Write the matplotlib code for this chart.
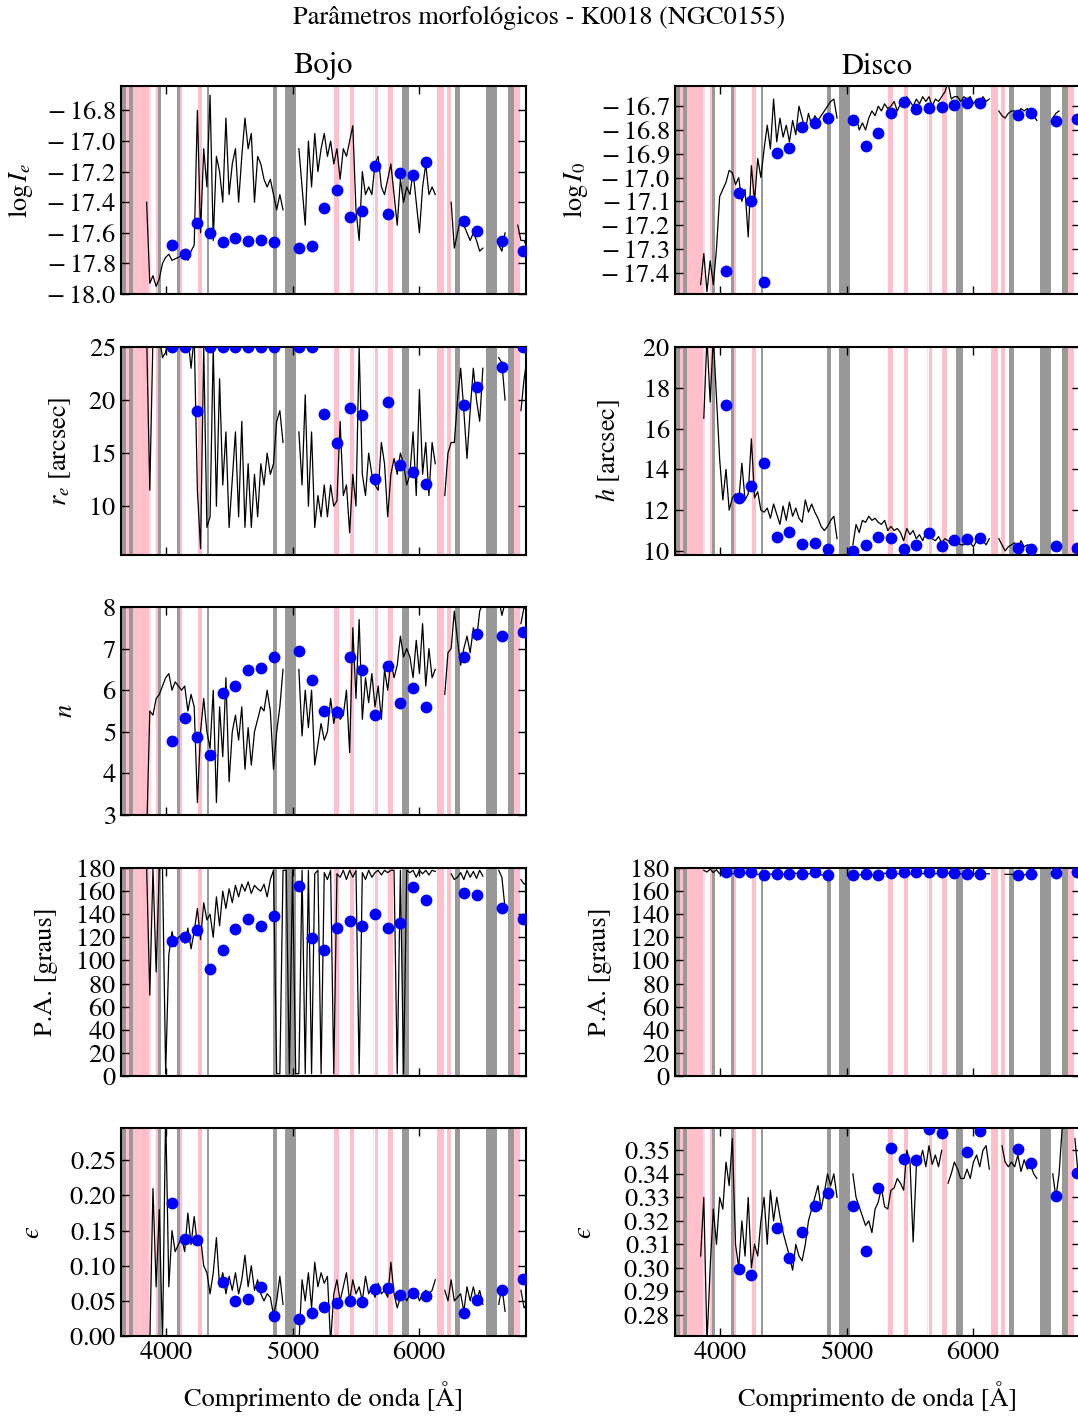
#!/usr/bin/env python3

import numpy as np
import matplotlib
matplotlib.use('Agg')
import matplotlib.pyplot as plt
from matplotlib.ticker import FuncFormatter

plt.rcParams['font.family'] = ['STIXGeneral', 'DejaVu Serif']
plt.rcParams['mathtext.fontset'] = 'stix'
plt.rcParams['axes.formatter.use_mathtext'] = True
plt.rcParams['xtick.direction'] = 'in'
plt.rcParams['ytick.direction'] = 'in'
plt.rcParams['xtick.top'] = True
plt.rcParams['ytick.right'] = True
plt.rcParams['xtick.major.size'] = 6
plt.rcParams['ytick.major.size'] = 6
plt.rcParams['xtick.major.width'] = 1.0
plt.rcParams['ytick.major.width'] = 1.0
plt.rcParams['axes.linewidth'] = 1.5

# wavelength grid of the per-wavelength fits (Angstrom)
wl = np.arange(3650, 6851, 25)

# centres of the 100 A bins (blue points)
bin_wl = [4050, 4150, 4250, 4350, 4450, 4550, 4650, 4750, 4850, 5050, 5150, 5250,
          5350, 5450, 5550, 5650, 5750, 5850, 5950, 6050, 6350, 6450, 6650, 6815]

# masked regions
gray_bands = [(3650, 3688), (3708, 3740), (3940, 3960), (4089, 4116), (4326, 4342),
              (4847, 4876), (4940, 5027), (5864, 5917), (6279, 6321), (6525, 6609),
              (6696, 6749)]
pink_bands = [(3688, 3708), (3740, 3867), (3922, 3940), (4116, 4126), (4255, 4290),
              (5330, 5370), (5449, 5483), (5653, 5674), (5753, 5792), (6136, 6194),
              (6220, 6252), (6749, 6794)]
light_pink_bands = [(3867, 3886), (5634, 5642)]

N = None

# ---- bulge (Bojo) ----
bulge_logI = [N, N, N, N, N, N, N, N, -17.40, -17.93,
              -17.88, -17.95, -17.90, -17.80, -17.76, -17.74, -17.78, -17.77, -17.76, -17.75,
              -17.73, -17.78, -17.72, -17.68, -16.80, -17.60, -17.05, -17.30, -16.70, -17.65,
              -17.10, -17.20, -17.40, -16.85, -17.35, -17.15, -17.05, -17.40, -17.10, -16.85,
              -17.05, -16.95, -17.40, -17.10, -17.15, -17.25, -17.30, -17.25, -17.35, -17.45,
              -17.35, -17.45, N, N, N, N, -17.05, -17.30, -17.55, -17.00,
              -17.30, -16.95, -17.20, -17.05, -16.95, -17.10, -17.00, -17.15, -17.05, -17.25,
              -17.05, -17.10, -17.00, -16.90, -17.45, -17.65, -17.20, -17.35, -17.30, -17.35,
              -17.15, -17.10, -17.30, -17.35, -17.25, -17.15, -17.35, -17.55, -17.25, -17.40,
              -17.30, -17.35, -17.20, -17.40, -17.60, -17.30, -17.15, -17.35, -17.30, -17.35,
              N, N, N, N, -17.40, -17.70, -17.60, -17.50, -17.55, -17.60,
              -17.65, -17.60, -17.65, -17.72, -17.70, N, N, N, N, -17.68,
              -17.72, -17.60, N, N, N, -17.55, -17.65, -17.65, -17.70]
bulge_logI_bin = [-17.677, -17.740, -17.537, -17.603, -17.659, -17.633, -17.653, -17.648,
                  -17.659, -17.699, -17.686, -17.435, -17.319, -17.498, -17.459, -17.162,
                  -17.476, -17.212, -17.223, -17.140, -17.520, -17.590, -17.653, -17.718]

bulge_re = [N, N, N, N, N, N, N, N, 26, 11.5,
            26, 26, 26, 24, 24.5, 26, 26, 26, 26, 26,
            26, 26, 23, 26, 11.5, 6, 25, 8, 9, 25,
            10, 22, 12, 17, 8, 12.5, 17, 9, 18, 8,
            14, 8, 13, 9, 14, 12, 15, 13, 14, 18,
            19, 16, N, N, N, N, 17, 12, 20.5, 10,
            17, 8, 11, 9, 12, 9, 12, 10, 10.5, 18,
            11, 12, 7.5, 13, 10, 25, 13, 11, 15, 13,
            12, 11.5, 16, 14, 9, 13, 14.5, 13, 15, 14,
            12, 13, 17, 11, 21, 13, 16, 11, 16, 14,
            N, N, 11, 15, 16, 16, 20, 23, 19, 14.5,
            19, 23, 20, 18, 23, N, N, N, N, 24,
            23.5, 20, N, N, N, N, 19, 22, 24]
bulge_re_bin = [25, 25, 18.93, 25, 25, 25, 25, 25, 25, 25, 25, 18.71,
                16.0, 19.25, 18.62, 12.58, 19.78, 13.9, 13.2, 12.08, 19.53, 21.26, 23.14, 25]

bulge_n = [N, N, N, N, N, N, N, N, 2.5, 5.5,
           5.4, 5.8, 5.9, 6.1, 6.3, 6.4, 6.0, 6.2, 6.1, 6.0,
           6.1, 5.5, 5.9, 5.6, 3.3, 5.0, 5.8, 5.0, 4.6, 6.0,
           3.3, 5.6, 4.4, 6.3, 3.8, 5.0, 5.4, 4.8, 5.6, 4.1,
           5.1, 4.2, 5.0, 5.3, 5.6, 5.5, 6.0, 5.5, 4.1, 5.0,
           5.6, 6.5, N, N, N, N, 6.5, 4.9, 6.0, 5.1,
           6.0, 4.2, 4.7, 5.2, 4.8, 5.0, 5.8, 5.2, 5.6, 5.3,
           5.4, 6.0, 4.5, 7.5, 5.8, 7.7, 5.3, 6.3, 5.7, 6.4,
           5.6, 6.1, 5.3, 6.5, 6.0, 6.7, 6.3, 6.6, 7.3, 6.8,
           7.0, 6.8, 6.3, 7.2, 6.4, 7.6, 6.1, 7.0, 6.3, 6.5,
           N, N, 5.9, 6.9, 7.0, 7.9, 7.2, 6.6, 7.0, 7.3,
           6.9, 7.5, 7.2, 7.9, 8.1, N, N, N, N, 8.2,
           7.8, 8.1, N, N, N, N, 7.6, 8.0, 7.9]
bulge_n_bin = [4.78, 5.33, 4.87, 4.44, 5.93, 6.10, 6.49, 6.54, 6.79, 6.94, 6.25, 5.49,
               5.47, 6.80, 6.48, 5.40, 6.59, 5.70, 6.05, 5.60, 6.81, 7.36, 7.31, 7.39]

bulge_pa = [N, N, N, N, N, N, N, N, 180, 70,
            180, 90, 180, 180, 2, 105, 125, 112, 120, 122,
            115, 128, 110, 125, 145, 118, 150, 135, 140, 120,
            155, 130, 160, 145, 162, 150, 165, 155, 166, 160,
            168, 158, 165, 162, 160, 166, 155, 170, 178, 2,
            2, 178, 178, 2, 178, 2, 2, 178, 2, 178,
            2, 175, 178, 2, 176, 170, 178, 2, 175, 172,
            178, 170, 178, 172, 178, 2, 176, 170, 178, 172,
            176, 178, 174, 178, 176, 178, 178, 2, 178, 2,
            178, 176, 178, 172, 178, 175, 178, 174, 178, 177,
            N, N, N, N, 175, 170, 172, 176, 170, 178,
            172, 177, 171, 178, 173, N, N, N, N, 178,
            172, 145, N, N, N, N, 170, 166, 168]
bulge_pa_bin = [116.9, 120.1, 126.5, 92.3, 109.4, 126.8, 135.7, 130.2, 138.6, 164.7,
                119.8, 108.8, 127.9, 134.3, 130.2, 140.1, 128.2, 132.5, 163.5, 152.2,
                158.0, 156.3, 145.6, 135.7]

bulge_eps = [N, N, N, N, N, N, N, N, N, -0.01,
             0.21, 0.07, 0.18, -0.01, 0.32, 0.07, 0.15, 0.12, 0.13, 0.14,
             0.12, 0.175, 0.13, 0.17, 0.13, 0.14, 0.10, 0.09, 0.06, 0.09,
             0.14, 0.07, 0.09, 0.06, 0.085, 0.065, 0.09, 0.06, 0.08, 0.115,
             0.07, 0.10, 0.065, 0.08, 0.06, 0.05, 0.06, 0.055, 0.03, 0.05,
             0.085, 0.045, N, N, N, N, -0.01, 0.08, 0.05, 0.09,
             0.04, 0.105, 0.07, 0.09, 0.075, 0.085, -0.01, 0.06, 0.08, 0.05,
             0.07, 0.09, 0.05, 0.08, 0.06, 0.07, 0.05, 0.085, 0.06, 0.07,
             0.055, 0.075, 0.06, 0.065, 0.055, 0.105, 0.06, 0.04, 0.055, 0.06,
             0.05, 0.06, 0.055, 0.065, 0.05, 0.06, 0.065, 0.06, 0.065, 0.08,
             N, N, 0.065, 0.05, 0.08, 0.05, 0.055, 0.06, 0.035, 0.07,
             0.05, 0.07, 0.05, 0.065, 0.045, N, N, N, N, 0.045,
             0.07, 0.035, N, N, N, N, 0.065, 0.04, 0.045]
bulge_eps_bin = [0.1886, 0.1376, 0.1367, N, 0.0762, 0.050, 0.0524, 0.070, 0.0281, 0.0248,
                 0.0324, 0.041, 0.0467, 0.0495, 0.0486, 0.0662, 0.0686, 0.0586, 0.061,
                 0.0576, 0.0333, 0.0514, 0.0657, 0.0814]

# ---- disc (Disco) ----
disc_logI = [N, N, N, N, N, N, N, N, -17.45, -17.32,
             -17.48, -17.35, -17.45, -17.30, -17.08, -17.05, -17.02, -16.97, -16.98, -17.03,
             -17.00, -17.10, -17.05, -17.25, -16.95, -17.10, -16.92, -17.00, -16.88, -16.78,
             -16.88, -16.67, -16.85, -16.75, -16.83, -16.78, -16.85, -16.76, -16.82, -16.70,
             -16.75, -16.80, -16.73, -16.78, -16.74, -16.76, -16.74, -16.72, -16.70, -16.68,
             -16.67, -16.75, N, N, N, N, -16.75, -16.74, -16.80, -16.77,
             -16.80, -16.75, -16.72, -16.74, -16.70, -16.72, -16.69, -16.71, -16.70, -16.68,
             -16.72, -16.69, -16.70, -16.66, -16.68, -16.70, -16.67, -16.69, -16.66, -16.68,
             -16.66, -16.70, -16.67, -16.68, -16.66, -16.64, -16.60, -16.67, -16.66, -16.66,
             -16.68, -16.66, -16.67, -16.66, -16.69, -16.67, -16.69, -16.66, -16.68, -16.67,
             N, N, -16.72, -16.74, -16.75, -16.73, -16.72, -16.72, -16.73, -16.71,
             -16.72, -16.71, -16.73, -16.74, -16.76, N, N, N, N, -16.75,
             -16.73, -16.72, N, N, N, N, -16.74, -16.75, -16.75]
disc_logI_bin = [-17.392, -17.066, -17.097, -17.439, -16.897, -16.877, -16.786, -16.772,
                 -16.749, -16.756, -16.869, -16.811, -16.728, -16.683, -16.711, -16.708,
                 -16.704, -16.697, -16.686, -16.686, -16.737, -16.728, -16.763, -16.754]

disc_h = [N, N, N, N, N, N, N, N, N, 16.5,
          20.5, 17.3, 20.5, 17.5, 14.5, 12.5, 14.0, 12.0, 12.6, 12.8,
          12.4, 14.3, 12.5, 12.8, 15.5, 12.6, 12.9, 12.0, 11.9, 12.1,
          11.6, 12.3, 11.8, 11.3, 12.2, 11.5, 12.4, 11.7, 12.1, 11.6,
          11.4, 12.5, 11.9, 12.3, 11.9, 11.6, 11.2, 11.0, 11.2, 11.5,
          11.7, 10.6, N, N, N, N, 10.3, 11.3, 10.9, 11.5,
          11.4, 11.7, 11.5, 11.6, 11.4, 11.3, 11.5, 11.0, 11.2, 11.0,
          11.1, 10.9, 10.5, 11.1, 10.8, 11.0, 10.6, 10.8, 10.5, 10.9,
          10.7, 10.6, 10.5, 10.7, 10.4, 10.6, 10.5, 10.3, 10.5, 10.4,
          10.3, 10.3, 10.5, 10.4, 10.2, 10.5, 10.4, 10.5, 10.3, 10.6,
          N, N, 10.6, 10.3, 10.0, 10.2, 10.3, 10.4, 10.1, 10.5,
          10.2, 10.3, 10.2, 10.2, 10.1, N, N, N, N, 10.2,
          10.3, 10.0, N, N, N, N, 10.1, 10.2, 10.1]
disc_h_bin = [17.17, 12.58, 13.17, 14.33, 10.70, 10.92, 10.36, 10.38, 10.07, 10.02,
              10.28, 10.67, 10.62, 10.07, 10.29, 10.88, 10.26, 10.54, 10.60, 10.62,
              10.15, 10.11, 10.23, 10.15]

disc_pa = [N, N, N, N, N, N, N, N, N, 178,
           176.5, 179, 176, 178.5, 175, 175.5, 176, 175, 175, 175.5,
           176, 175, 175.5, 174.5, 175, 175.5, 174.5, 174.5, 174, 175,
           174.5, 175, 174.5, 175, 174.5, 175, 174.5, 175, 175.5, 175,
           175, 175.5, 175, 175, 175.5, 175, 174, 174, 174, 174,
           N, N, N, N, N, N, 175, 174.5, 174, 174.5,
           174, 174.5, 174, 174.5, 175, 175, 175.5, 175, 175, 175.5,
           175, 175, 175.5, 176, 175, 174, 175, 175, 175, 175.5,
           176, 175, 175, 175.5, 175, 175, 175.5, 175, 175, 175,
           175, 175, 175, 175.5, 175, 175, 175.5, 175, 175, 175,
           N, N, 174.5, N, 174.5, 174.5, 174.5, 174.5, 174, 174.5,
           174, 174.5, 174.5, 174, 174, N, N, N, N, 174,
           174, 173.5, N, N, N, N, 174, 174, 174]
disc_pa_bin = [176.2, 176.8, 176.5, 173.6, 174.8, 174.8, 175.1, 176.2, 174.2, 174.2,
               174.5, 173.9, 175.7, 176.2, 176.2, 176.8, 176.5, 175.9, 174.5, 175.1,
               174.2, 174.8, 175.7, 176.5]

disc_eps = [N, N, N, N, N, N, N, N, 0.305, 0.33,
            0.268, 0.30, 0.325, 0.31, 0.33, 0.325, 0.345, 0.335, 0.355, 0.31,
            0.30, 0.32, 0.305, 0.33, 0.30, 0.31, 0.305, 0.32, 0.33, 0.31,
            0.333, 0.32, 0.33, 0.322, 0.315, 0.31, 0.305, 0.299, 0.31, 0.305,
            0.303, 0.31, 0.32, 0.325, 0.33, 0.335, 0.325, 0.332, 0.34, 0.335,
            0.34, 0.33, N, N, N, N, 0.34, 0.33, 0.326, 0.322,
            0.318, 0.32, 0.315, 0.325, 0.328, 0.334, 0.326, 0.325, 0.333, 0.334,
            0.338, 0.336, 0.333, 0.35, 0.345, 0.311, 0.343, 0.345, 0.35, 0.343,
            0.352, 0.344, 0.348, 0.343, 0.35, N, 0.336, 0.34, 0.345, 0.342,
            0.338, 0.338, 0.342, 0.338, 0.345, 0.348, 0.343, 0.35, 0.352, 0.342,
            N, N, N, 0.352, 0.345, 0.343, 0.345, 0.343, 0.348, 0.341,
            0.346, 0.342, 0.344, 0.34, 0.338, N, N, N, N, 0.34,
            0.33, 0.34, 0.36, N, N, N, 0.355, 0.34, 0.356]
disc_eps_bin = [N, 0.2994, 0.2969, N, 0.3170, 0.3043, 0.3153, 0.3261, 0.3317, 0.3264,
                0.3072, 0.3341, 0.3511, 0.3463, 0.3460, 0.3589, 0.3574, N, 0.3493,
                0.3581, 0.3504, 0.3446, 0.3307, 0.3405]

# panels: (row, col, line, points, ylabel, label x, yticks, ylim)
panels = [
    (0, 0, bulge_logI, bulge_logI_bin, r'$\log I_e$', -0.212,
     [-18.0, -17.8, -17.6, -17.4, -17.2, -17.0, -16.8], (-18.0, -16.64)),
    (1, 0, bulge_re, bulge_re_bin, r'$r_e$ [arcsec]', -0.118, [10, 15, 20, 25], (5.4, 25)),
    (2, 0, bulge_n, bulge_n_bin, r'$n$', -0.106, [3, 4, 5, 6, 7, 8], (3, 8)),
    (3, 0, bulge_pa, bulge_pa_bin, 'P.A. [graus]', -0.156, list(range(0, 181, 20)), (0, 180)),
    (4, 0, bulge_eps, bulge_eps_bin, u'$\u03f5$', -0.188,
     [0.0, 0.05, 0.10, 0.15, 0.20, 0.25], (0, 0.296)),
    (0, 1, disc_logI, disc_logI_bin, r'$\log I_0$', -0.210,
     [-17.4, -17.3, -17.2, -17.1, -17.0, -16.9, -16.8, -16.7], (-17.49, -16.615)),
    (1, 1, disc_h, disc_h_bin, r'$h$ [arcsec]', -0.131, [10, 12, 14, 16, 18, 20], (9.8, 20)),
    (3, 1, disc_pa, disc_pa_bin, 'P.A. [graus]', -0.156, list(range(0, 181, 20)), (0, 180)),
    (4, 1, disc_eps, disc_eps_bin, u'$\u03f5$', -0.193,
     [0.28, 0.29, 0.30, 0.31, 0.32, 0.33, 0.34, 0.35], (0.271, 0.3595)),
]


def neg_fmt(v, pos):
    # minus sign with a little space after it, as in the original figure
    if v < 0:
        return r'$\mathdefault{-}\:\mathdefault{%.1f}$' % abs(v)
    return r'$\mathdefault{%.1f}$' % v


def main():
    W, H = 1078, 1416
    fig = plt.figure(figsize=(W / 100.0, H / 100.0), dpi=100)

    col_left = [121, 675]
    row_top = [86, 347, 607, 868, 1128]
    aw, ah = 405, 208

    axes = {}
    for row, col, line, pts, ylab, labx, yt, yl in panels:
        ax = fig.add_axes([col_left[col] / W, 1 - (row_top[row] + ah) / H, aw / W, ah / H])
        axes[(row, col)] = ax

        for a, b in gray_bands:
            ax.axvspan(a, b, color='#999999', lw=0, zorder=0)
        for a, b in pink_bands:
            ax.axvspan(a, b, color='pink', lw=0, zorder=0)
        for a, b in light_pink_bands:
            ax.axvspan(a, b, color='#ffe0e6', lw=0, zorder=0)

        y = np.array(line, dtype=float)
        ax.plot(wl, y, '-', color='k', lw=0.9, zorder=2)
        yp = np.array(pts, dtype=float)
        ax.plot(bin_wl, yp, 'o', color='b', mec='b', ms=7.5, zorder=3)

        ax.set_xlim(3648, 6840)
        ax.set_ylim(*yl)
        ax.set_yticks(yt)
        ax.set_xticks([4000, 5000, 6000])
        if yt[0] < 0:
            ax.yaxis.set_major_formatter(FuncFormatter(neg_fmt))
        else:
            ax.yaxis.get_major_formatter().set_useOffset(False)
        ax.tick_params(labelsize=19)
        ax.set_ylabel(ylab, fontsize=19)
        ax.yaxis.set_label_coords(labx, 0.5)
        if row == 4:
            ax.set_xlabel(u'Comprimento de onda [Å]', fontsize=19, labelpad=12)
        else:
            ax.set_xticklabels([])

    axes[(0, 0)].set_title('Bojo', fontsize=22, pad=9)
    axes[(0, 1)].set_title('Disco', fontsize=22, pad=9)
    fig.text(0.5, 1 - 18.0 / H, u'Parâmetros morfológicos - K0018 (NGC0155)',
             ha='center', va='center', fontsize=19)

    fig.savefig('out.png', dpi=100)


if __name__ == "__main__":
    main()
